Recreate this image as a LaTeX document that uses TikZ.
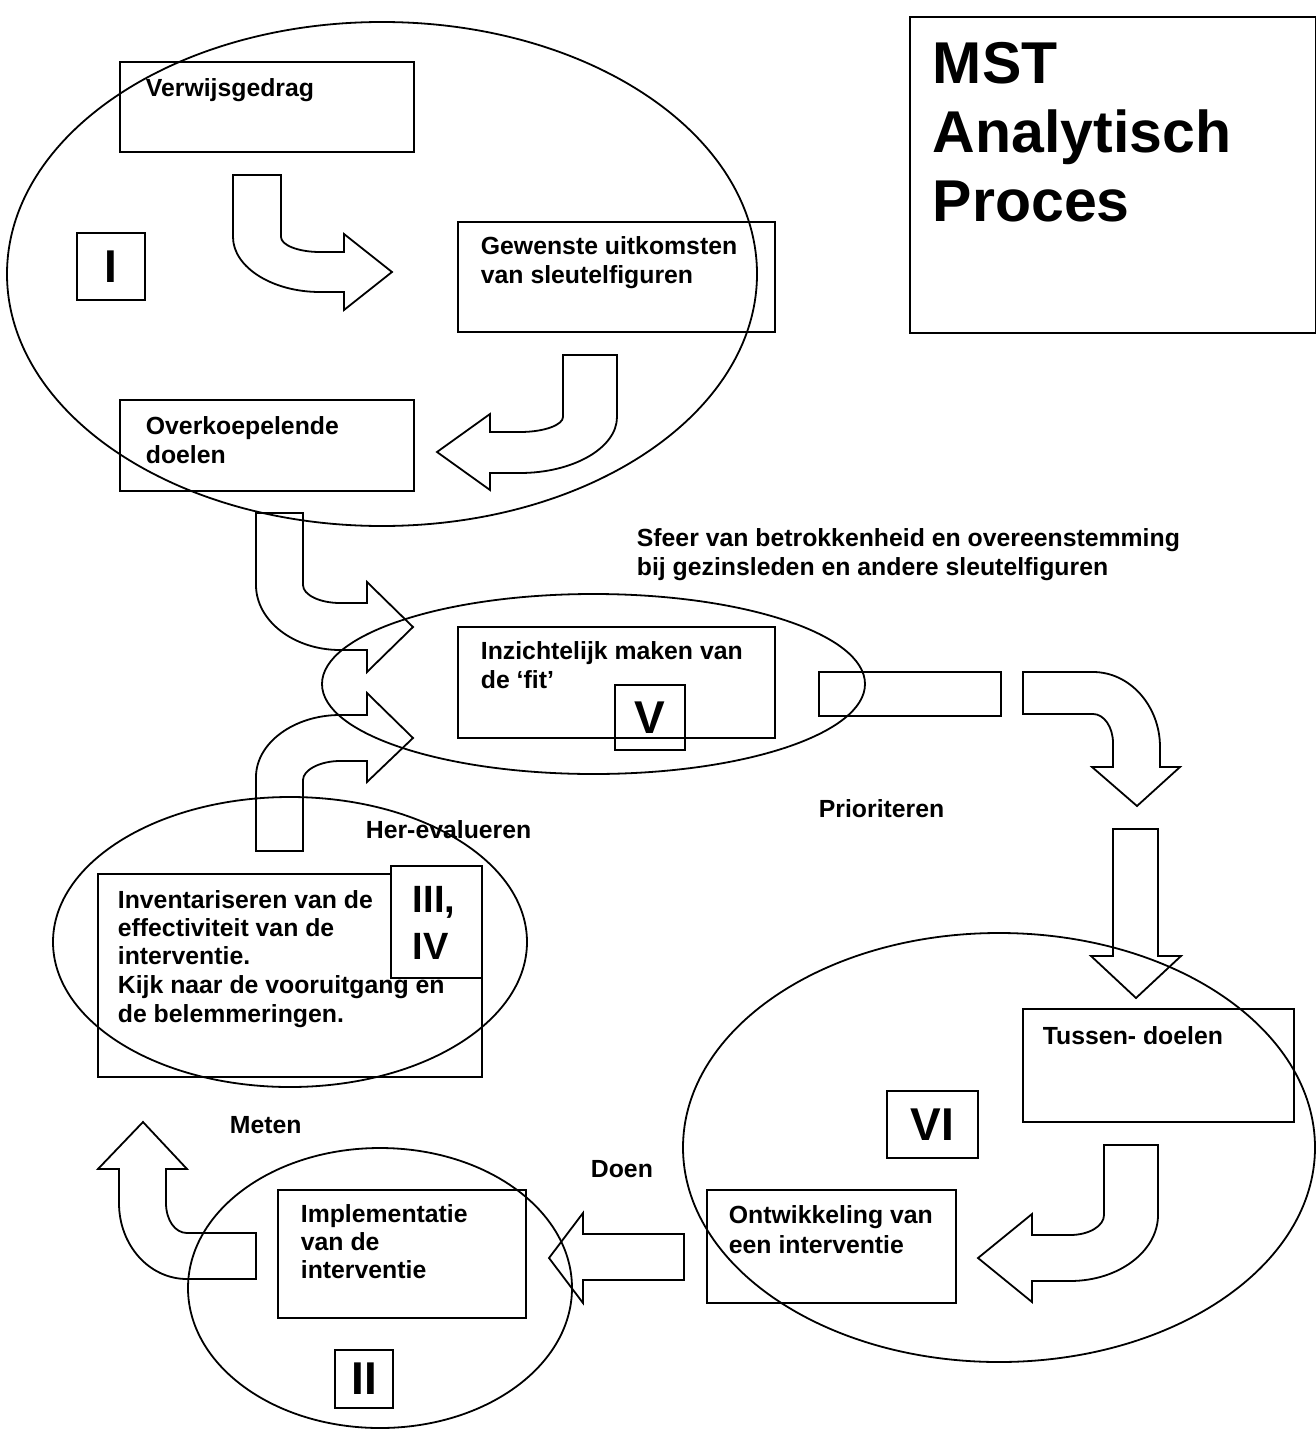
\documentclass[tikz,border=0pt]{standalone}
\usepackage{fontspec}
\setmainfont{Liberation Sans}
\usetikzlibrary{shapes.geometric}
\begin{document}
\begin{tikzpicture}[x=0.5pt,y=-0.5pt,
  every path/.style={line width=0.9pt, line join=miter},
  pbox/.style={draw, rectangle, inner sep=0pt, outer sep=0pt, anchor=north west},
  txt/.style={anchor=base west, inner sep=0pt, font=\bfseries\fontsize{12.4}{14.2}\selectfont},
  ttl/.style={anchor=base west, inner sep=0pt, font=\bfseries\fontsize{29.5}{34}\selectfont},
  rom/.style={inner sep=0pt, font=\bfseries\fontsize{23}{26}\selectfont},
  blk/.style={draw, line width=0.9pt}]
\useasboundingbox (0,0) rectangle (1316,1429);

% ---- ellipses
\node[draw, ellipse, minimum width=750*0.5pt, minimum height=504*0.5pt, inner sep=0pt] (eI) at (382,274) {};
\node[draw, ellipse, minimum width=543*0.5pt, minimum height=180*0.5pt, inner sep=0pt] (eV) at (593.5,684) {};
\node[draw, ellipse, minimum width=632*0.5pt, minimum height=429*0.5pt, inner sep=0pt] (eVI) at (999,1147.5) {};
\node[draw, ellipse, minimum width=384*0.5pt, minimum height=280*0.5pt, inner sep=0pt] (eII) at (380,1288) {};

% ---- boxes (top-left corner, width, height in px)
\node[pbox, minimum width=294*0.5pt, minimum height=90*0.5pt] (bVerw) at (120,62) {};
\node[pbox, minimum width=317*0.5pt, minimum height=110*0.5pt] (bGew) at (458,222) {};
\node[pbox, minimum width=294*0.5pt, minimum height=91*0.5pt] (bOver) at (120,400) {};
\node[pbox, minimum width=68*0.5pt, minimum height=67*0.5pt] (bI) at (77,233) {};
\node[pbox, minimum width=406*0.5pt, minimum height=316*0.5pt] (bTitle) at (910,17) {};
\node[pbox, minimum width=317*0.5pt, minimum height=111*0.5pt] (bFit) at (458,627) {};
\node[pbox, minimum width=70*0.5pt, minimum height=65*0.5pt] (bV) at (615,685) {};
\node[pbox, minimum width=182*0.5pt, minimum height=44*0.5pt] (bBar) at (819,672) {};
\node[pbox, minimum width=384*0.5pt, minimum height=203*0.5pt] (bInv) at (98,874) {};
\node[pbox, fill=white, minimum width=91*0.5pt, minimum height=112*0.5pt] (bIII) at (391,866) {};
\node[draw, ellipse, minimum width=474*0.5pt, minimum height=290*0.5pt, inner sep=0pt] (eIII) at (290,942) {};
\node[pbox, minimum width=271*0.5pt, minimum height=113*0.5pt] (bTus) at (1023,1009) {};
\node[pbox, minimum width=91*0.5pt, minimum height=67*0.5pt] (bVI) at (887,1091) {};
\node[pbox, minimum width=249*0.5pt, minimum height=113*0.5pt] (bOnt) at (707,1190) {};
\node[pbox, minimum width=248*0.5pt, minimum height=128*0.5pt] (bImp) at (278,1190) {};
\node[pbox, minimum width=58*0.5pt, minimum height=58*0.5pt] (bII) at (335,1350) {};

% ---- block arrows
\draw[blk] (233,175) -- (281,175) -- (281,237) .. controls (281,245) and (298,252) .. (320,252)
  -- (344,252) -- (344,234) -- (392,272) -- (344,310) -- (344,292) -- (320,292)
  .. controls (272,292) and (233,267) .. (233,237) -- cycle;
\draw[blk] (563,355) -- (617,355) -- (617,417) .. controls (617,448) and (573,473) .. (520,473)
  -- (490,473) -- (490,490) -- (437,452) -- (490,414) -- (490,432) -- (520,432)
  .. controls (544,432) and (563,425) .. (563,417) -- cycle;
\draw[blk] (256,513) -- (303,513) -- (303,585) .. controls (303,595) and (320,603) .. (340,603)
  -- (367,603) -- (367,582) -- (413,627) -- (367,672) -- (367,650) -- (340,650)
  .. controls (294,650) and (256,621) .. (256,585) -- cycle;
\draw[blk] (256,851) -- (256,777) .. controls (256,743) and (294,715) .. (340,715)
  -- (367,715) -- (367,693) -- (413,738) -- (367,782) -- (367,761) -- (340,761)
  .. controls (320,761) and (303,770) .. (303,780) -- (303,851) -- cycle;
\draw[blk] (1023,672) -- (1093,672) .. controls (1130,672) and (1160,706) .. (1160,747)
  -- (1160,767) -- (1180,767) -- (1137,806) -- (1092,767) -- (1113,767) -- (1113,743)
  .. controls (1113,727) and (1104,714) .. (1093,714) -- (1023,714) -- cycle;
\draw[blk] (1113,829) -- (1158,829) -- (1158,956) -- (1181,956) -- (1136,998) -- (1091,956) -- (1113,956) -- cycle;
\draw[blk] (1104,1145) -- (1158,1145) -- (1158,1215) .. controls (1158,1251) and (1119,1281) .. (1070,1281)
  -- (1032,1281) -- (1032,1302) -- (978,1258) -- (1032,1214) -- (1032,1235) -- (1070,1235)
  .. controls (1089,1235) and (1104,1226) .. (1104,1215) -- cycle;
\draw[blk] (684,1234) -- (684,1280) -- (583,1280) -- (583,1303) -- (549,1258) -- (583,1213) -- (583,1234) -- cycle;
\draw[blk] (256,1233) -- (256,1279) -- (187,1279) .. controls (149,1279) and (119,1245) .. (119,1203)
  -- (119,1169) -- (98,1169) -- (143,1122) -- (187,1169) -- (166,1169) -- (166,1203)
  .. controls (166,1220) and (175,1233) .. (187,1233) -- cycle;

% ---- texts
\node[txt] (tVerw) at (145,97) {Verwijsgedrag};
\node[txt] (tGew1) at (480,254) {Gewenste uitkomsten};
\node[txt] (tGew2) at (480,283) {van sleutelfiguren};
\node[txt] (tOver1) at (145,434) {Overkoepelende};
\node[txt] (tOver2) at (145,463) {doelen};
\node[rom] (tI) at (bI.center) {I};

\node[ttl] (tT1) at (932,84) {MST};
\node[ttl] (tT2) at (932,152) {Analytisch};
\node[ttl] (tT3) at (932,221) {Proces};

\node[txt] (tSf1) at (636,546) {Sfeer van betrokkenheid en overeenstemming};
\node[txt] (tSf2) at (636,575) {bij gezinsleden en andere sleutelfiguren};

\node[txt] (tFit1) at (480,659) {Inzichtelijk maken van};
\node[txt] (tFit2) at (480,688) {de ‘fit’};
\node[rom] (tV) at (bV.center) {V};

\node[txt] (tPri) at (818,817) {Prioriteren};
\node[txt] (tHer) at (365,838) {Her-evalueren};

\node[txt] (tInv1) at (117,908) {Inventariseren van de};
\node[txt] (tInv2) at (117,936) {effectiviteit van de};
\node[txt] (tInv3) at (117,964) {interventie.};
\node[txt] (tInv4) at (117,993) {Kijk naar de vooruitgang en};
\node[txt] (tInv5) at (117,1022) {de belemmeringen.};
\node[anchor=base west, inner sep=0pt, font=\bfseries\fontsize{19}{23}\selectfont] (tIII) at (412,912) {III,};
\node[anchor=base west, inner sep=0pt, font=\bfseries\fontsize{19}{23}\selectfont] (tIV) at (412,959) {IV};

\node[txt] (tTus) at (1042,1044) {Tussen- doelen};
\node[rom] (tVI) at (bVI.center) {VI};
\node[txt] (tMet) at (229,1133) {Meten};
\node[txt] (tDoen) at (590,1177) {Doen};
\node[txt] (tOnt1) at (728,1223) {Ontwikkeling van};
\node[txt] (tOnt2) at (728,1253) {een interventie};
\node[txt] (tImp1) at (300,1222) {Implementatie};
\node[txt] (tImp2) at (300,1250) {van de};
\node[txt] (tImp3) at (300,1278) {interventie};
\node[rom] (tII) at (bII.center) {II};
\end{tikzpicture}
\end{document}
